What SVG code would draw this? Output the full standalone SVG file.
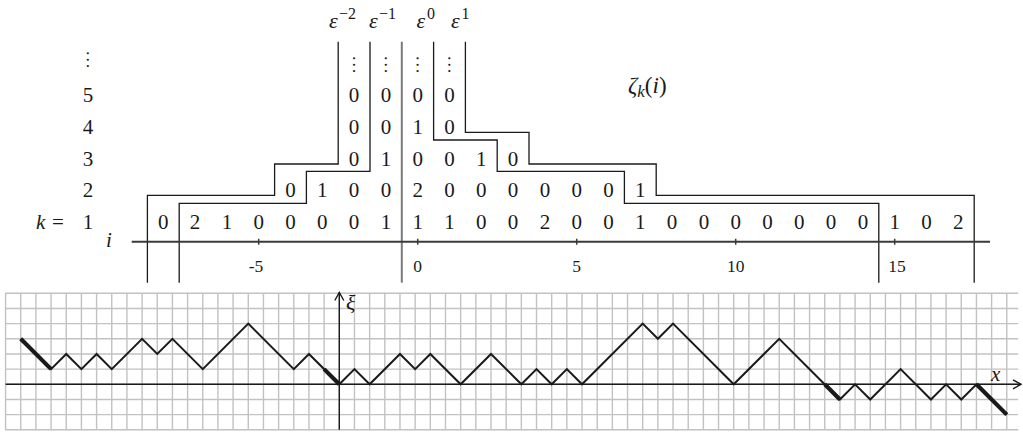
<svg xmlns="http://www.w3.org/2000/svg" width="1023" height="432" viewBox="0 0 1023 432" font-family="Liberation Serif, Tinos, Times New Roman, Times, Nimbus Roman, FreeSerif, DejaVu Serif, Noto Serif, serif">
<style>
text{font-family:"Liberation Serif",Tinos,"Times New Roman",Times,"Nimbus Roman","Nimbus Roman No9 L",FreeSerif,"DejaVu Serif","Noto Serif",Georgia,serif;fill:#1a1a1a}
.d{font-size:21px;text-anchor:middle}
.it{font-style:italic}
.tk{font-size:17.5px;text-anchor:middle}
.dots{font-size:19px;text-anchor:middle}
.bd{fill:none;stroke:#1a1a1a;stroke-width:1.3}
.grid{fill:none;stroke:#c2c2c2;stroke-width:1.4}
.w{fill:none;stroke:#1a1a1a;stroke-width:2;stroke-linejoin:miter}
.wt{fill:none;stroke:#1a1a1a;stroke-width:4.2;stroke-linecap:butt}
.ax{fill:none;stroke:#1a1a1a;stroke-width:1.4}
</style>
<defs>
<marker id="arr" markerWidth="12" markerHeight="12" refX="10" refY="6" orient="auto" markerUnits="userSpaceOnUse">
<path d="M2,1.5 L10,6 L2,10.5" fill="none" stroke="#1a1a1a" stroke-width="1.4"/>
</marker>
</defs>

<g id="epsilon-labels">
<text x="329" y="28" class="it" font-size="22">ε</text><text x="339" y="19" font-size="16">−2</text>
<text x="369" y="28" class="it" font-size="22">ε</text><text x="379" y="19" font-size="16">−1</text>
<text x="416.5" y="28" class="it" font-size="22">ε</text><text x="427" y="19" font-size="16">0</text>
<text x="451" y="28" class="it" font-size="22">ε</text><text x="461.5" y="19" font-size="16">1</text>
</g>

<g id="zeta-label">
<text x="628" y="93" font-size="23"><tspan font-style="italic">ζ</tspan><tspan font-style="italic" font-size="17" dy="4">k</tspan><tspan dy="-4">(</tspan><tspan font-style="italic">i</tspan><tspan>)</tspan></text>
</g>

<g id="row-labels">
<text x="88" y="67" class="dots">⋮</text>
<text x="88" y="102" class="d">5</text>
<text x="88" y="134" class="d">4</text>
<text x="88" y="165.5" class="d">3</text>
<text x="88" y="197" class="d">2</text>
<text x="36" y="229" class="it" font-size="21">k</text>
<text x="52" y="229" font-size="21">=</text>
<text x="88" y="229" class="d">1</text>
<text x="106" y="246.5" class="it" font-size="21">i</text>
</g>

<g id="table-lines">
<path class="bd" d="M147.4,282.7 V195.3 H274.6 V164 H338.2 V41.7"/>
<path class="bd" d="M179.2,282.7 V203.3 H306.4 V171.3 H370 V41.7"/>
<path fill="none" stroke="#7a7a7a" stroke-width="2" d="M401.8,41.7 V282.7"/>
<path class="bd" d="M433.6,41.7 V140 H497.2 V171.3 H624.4 V203.3 H878.8 V282.7"/>
<path class="bd" d="M465.4,41.7 V132.3 H529 V164 H656.2 V195.3 H974.2 V282.7"/>
</g>

<g id="i-axis">
<path fill="none" stroke="#3a3a3a" stroke-width="2" d="M131.7,241.7 H990"/>
<path fill="none" stroke="#3a3a3a" stroke-width="1.5" d="M258.7,238.7 V244.7 M417.7,238.7 V244.7 M576.7,238.7 V244.7 M735.7,238.7 V244.7 M894.7,238.7 V244.7"/>
<text x="256" y="271.7" class="tk">-5</text>
<text x="417.7" y="271.7" class="tk">0</text>
<text x="576.7" y="271.7" class="tk">5</text>
<text x="735.7" y="271.7" class="tk">10</text>
<text x="897" y="271.7" class="tk">15</text>
</g>

<g id="row-5" class="d">
<text x="354.1" y="72" class="dots">⋮</text><text x="385.9" y="72" class="dots">⋮</text><text x="417.7" y="72" class="dots">⋮</text><text x="449.5" y="72" class="dots">⋮</text>
<text x="354.1" y="102">0</text><text x="385.9" y="102">0</text><text x="417.7" y="102">0</text><text x="449.5" y="102">0</text>
</g>
<g id="row-4" class="d">
<text x="354.1" y="134">0</text><text x="385.9" y="134">0</text><text x="417.7" y="134">1</text><text x="449.5" y="134">0</text>
</g>
<g id="row-3" class="d">
<text x="354.1" y="165.5">0</text><text x="385.9" y="165.5">1</text><text x="417.7" y="165.5">0</text><text x="449.5" y="165.5">0</text><text x="481.3" y="165.5">1</text><text x="513.1" y="165.5">0</text>
</g>
<g id="row-2" class="d">
<text x="290.5" y="197">0</text><text x="322.3" y="197">1</text><text x="354.1" y="197">0</text><text x="385.9" y="197">0</text><text x="417.7" y="197">2</text><text x="449.5" y="197">0</text><text x="481.3" y="197">0</text><text x="513.1" y="197">0</text><text x="544.9" y="197">0</text><text x="576.7" y="197">0</text><text x="608.5" y="197">0</text><text x="640.3" y="197">1</text>
</g>
<g id="row-1" class="d">
<text x="163.3" y="229">0</text><text x="195.1" y="229">2</text><text x="226.9" y="229">1</text><text x="258.7" y="229">0</text><text x="290.5" y="229">0</text><text x="322.3" y="229">0</text><text x="354.1" y="229">0</text><text x="385.9" y="229">1</text><text x="417.7" y="229">1</text><text x="449.5" y="229">1</text><text x="481.3" y="229">0</text><text x="513.1" y="229">0</text><text x="544.9" y="229">2</text><text x="576.7" y="229">0</text><text x="608.5" y="229">0</text><text x="640.3" y="229">1</text><text x="672.1" y="229">0</text><text x="703.9" y="229">0</text><text x="735.7" y="229">0</text><text x="767.5" y="229">0</text><text x="799.3" y="229">0</text><text x="831.1" y="229">0</text><text x="862.9" y="229">0</text><text x="894.7" y="229">1</text><text x="926.5" y="229">0</text><text x="958.3" y="229">2</text>
</g>

<g id="walk-plot">
<g transform="translate(339.3 384.3) scale(15.17 -15.17)">
<path class="grid" vector-effect="non-scaling-stroke" d="M-22.02,-3 H44.75 M-22.02,-2 H44.75 M-22.02,-1 H44.75 M-22.02,0 H44.75 M-22.02,1 H44.75 M-22.02,2 H44.75 M-22.02,3 H44.75 M-22.02,4 H44.75 M-22.02,5 H44.75 M-22.02,6 H44.75"/>
<path class="grid" vector-effect="non-scaling-stroke" d="M-22,-3 V6 M-21,-3 V6 M-20,-3 V6 M-19,-3 V6 M-18,-3 V6 M-17,-3 V6 M-16,-3 V6 M-15,-3 V6 M-14,-3 V6 M-13,-3 V6 M-12,-3 V6 M-11,-3 V6 M-10,-3 V6 M-9,-3 V6 M-8,-3 V6 M-7,-3 V6 M-6,-3 V6 M-5,-3 V6 M-4,-3 V6 M-3,-3 V6 M-2,-3 V6 M-1,-3 V6 M0,-3 V6 M1,-3 V6 M2,-3 V6 M3,-3 V6 M4,-3 V6 M5,-3 V6 M6,-3 V6 M7,-3 V6 M8,-3 V6 M9,-3 V6 M10,-3 V6 M11,-3 V6 M12,-3 V6 M13,-3 V6 M14,-3 V6 M15,-3 V6 M16,-3 V6 M17,-3 V6 M18,-3 V6 M19,-3 V6 M20,-3 V6 M21,-3 V6 M22,-3 V6 M23,-3 V6 M24,-3 V6 M25,-3 V6 M26,-3 V6 M27,-3 V6 M28,-3 V6 M29,-3 V6 M30,-3 V6 M31,-3 V6 M32,-3 V6 M33,-3 V6 M34,-3 V6 M35,-3 V6 M36,-3 V6 M37,-3 V6 M38,-3 V6 M39,-3 V6 M40,-3 V6 M41,-3 V6 M42,-3 V6 M43,-3 V6 M44,-3 V6"/>
</g>
<path class="ax" d="M5.6,384.3 H1021" marker-end="url(#arr)"/>
<path class="ax" d="M339.3,429.8 V292.5" marker-end="url(#arr)"/>
<text x="346" y="310" class="it" font-size="22">ξ</text>
<text x="991" y="381" class="it" font-size="21">x</text>
<g transform="translate(339.3 384.3) scale(15.17 -15.17)">
<path class="w" vector-effect="non-scaling-stroke" d="M-21,3 L-19,1 L-18,2 L-17,1 L-16,2 L-15,1 L-13,3 L-12,2 L-11,3 L-9,1 L-6,4 L-3,1 L-2,2 L0,0 L1,1 L2,0 L4,2 L5,1 L6,2 L8,0 L10,2 L12,0 L13,1 L14,0 L15,1 L16,0 L20,4 L21,3 L22,4 L26,0 L29,3 L33,-1 L34,0 L35,-1 L37,1 L39,-1 L40,0 L41,-1 L42,0 L44,-2"/>
<path class="wt" vector-effect="non-scaling-stroke" d="M-21,3 L-19,1 M-1,1 L0,0 M32,0 L33,-1 M42,0 L44,-2"/>
</g>
</g>
</svg>
